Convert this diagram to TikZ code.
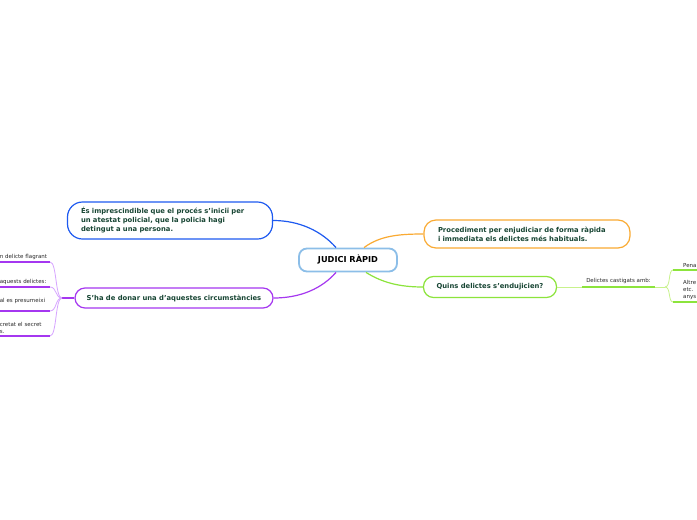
\documentclass[tikz,border=0pt]{standalone}
\usepackage{fontspec}
\setmainfont{DejaVu Sans}
\usepackage{tikz}
\definecolor{ink}{RGB}{24,70,52}
\definecolor{rootblue}{RGB}{140,190,232}
\definecolor{tblue}{RGB}{30,90,240}
\definecolor{torange}{RGB}{250,170,50}
\definecolor{tgreen}{RGB}{140,228,60}
\definecolor{lgreen}{RGB}{200,242,140}
\definecolor{tpurple}{RGB}{165,55,240}
\definecolor{lpurple}{RGB}{215,165,255}
\definecolor{leaftext}{RGB}{40,40,40}

\begin{document}
\begin{tikzpicture}[x=1pt, y=-1pt,
  topic/.style={draw, fill=white, line width=1.2pt, text=ink, font=\fontsize{6.8}{9}\selectfont\bfseries},
  leaf/.style={inner xsep=3pt, inner ysep=2pt, text=leaftext, font=\fontsize{5.5}{7}\selectfont, align=left},
  branch/.style={line width=1.2pt},
  twig/.style={line width=0.8pt},
  uline/.style={line width=2pt}]

  \useasboundingbox (0,0) rectangle (697,520);
  \fill[white] (0,0) rectangle (697,520);

  \node[draw=rootblue, line width=1.8pt, fill=white, rounded corners=8pt, minimum width=98pt, minimum height=23pt,
        font=\fontsize{8.2}{10}\selectfont\bfseries] (root) at (348,260) {JUDICI RÀPID};

  \node[topic, draw=tblue, rounded corners=15pt, text width=178pt, inner xsep=13.5pt, minimum height=37pt,
        align=left] (cond) at (170,220.5) {És imprescindible que el procés s'iniciï per\\un atestat policial, que la policia hagi\\detingut a una persona.};
  \node[topic, draw=torange, rounded corners=12pt, text width=178pt, inner xsep=14pt, minimum height=28pt,
        align=left] (proc) at (527,234) {Procediment per enjudiciar de forma ràpida\\i immediata els delictes més habituals.};
  \node[topic, draw=tgreen, rounded corners=10pt, minimum width=133pt, minimum height=21pt] (quins) at (490,287) {Quins delictes s'endujicien?};
  \node[topic, draw=tpurple, rounded corners=10pt, minimum width=198pt, minimum height=20pt] (circ) at (174,298) {S'ha de donar una d'aquestes circumstàncies};

  % root -> topics
  \draw[tblue, branch] ([xshift=-12pt]root.north) .. controls +(-14,-16) and +(27,0) .. (cond.east);
  \draw[torange, branch] ([xshift=16pt]root.north) .. controls +(16,-12) and +(-24,0) .. (proc.west);
  \draw[tgreen, branch] ([xshift=18pt]root.south) .. controls +(16,10) and +(-24,0) .. (quins.west);
  \draw[tpurple, branch] ([xshift=-12pt]root.south) .. controls +(-14,16) and +(27,0) .. (circ.east);

  % Delictes castigats amb
  \node[leaf, anchor=south, minimum width=73pt, inner ysep=3pt] (castig) at (618.5,287) {Delictes castigats amb:};
  \node[leaf, anchor=south west, text width=30pt, inner xsep=10pt] (pena) at (673,270) {Pena};
  \node[leaf, anchor=south west, text width=30pt, inner xsep=10pt] (altre) at (673,302) {Altre\\etc.\\anys};
  \coordinate (rfork) at (665,287);

  \draw[lgreen, twig] (quins.east) -- (castig.south west);
  \draw[tgreen, uline] (castig.south west) -- (castig.south east);
  \draw[lgreen, twig] (castig.south east) -- (rfork);
  \draw[lgreen, twig] (rfork) .. controls +(6,0) and +(-5,0) .. (pena.south west);
  \draw[lgreen, twig] (rfork) .. controls +(6,0) and +(-5,0) .. (altre.south west);
  \draw[tgreen, uline] (pena.south west) -- (pena.south east);
  \draw[tgreen, uline] (altre.south west) -- (altre.south east);

  % circumstancies
  \node[leaf, anchor=south east, text width=48pt, inner xsep=2pt] (s1) at (50,262) {\mbox{n delicte flagrant}};
  \node[leaf, anchor=south east, text width=48pt, inner xsep=2pt] (s2) at (50,287) {\mbox{aquests delictes:}};
  \node[leaf, anchor=south east, text width=48pt, inner xsep=2pt, inner ysep=7pt] (s3) at (50,311) {\mbox{al es presumeixi}};
  \node[leaf, anchor=south east, text width=48pt, inner xsep=2pt] (s4) at (50,336) {cretat el secret\\s.};
  \coordinate (lfork) at (62,298);

  \draw[tpurple, branch] (circ.west) -- (lfork);
  \draw[lpurple, twig] (lfork) .. controls +(-7,0) and +(7,0) .. (s1.south east);
  \draw[lpurple, twig] (lfork) .. controls +(-7,0) and +(7,0) .. (s2.south east);
  \draw[lpurple, twig] (lfork) .. controls +(-7,0) and +(7,0) .. (s3.south east);
  \draw[lpurple, twig] (lfork) .. controls +(-7,0) and +(7,0) .. (s4.south east);
  \draw[tpurple, uline] (s1.south west) -- (s1.south east);
  \draw[tpurple, uline] (s2.south west) -- (s2.south east);
  \draw[tpurple, uline] (s3.south west) -- (s3.south east);
  \draw[tpurple, uline] (s4.south west) -- (s4.south east);
\end{tikzpicture}
\end{document}
